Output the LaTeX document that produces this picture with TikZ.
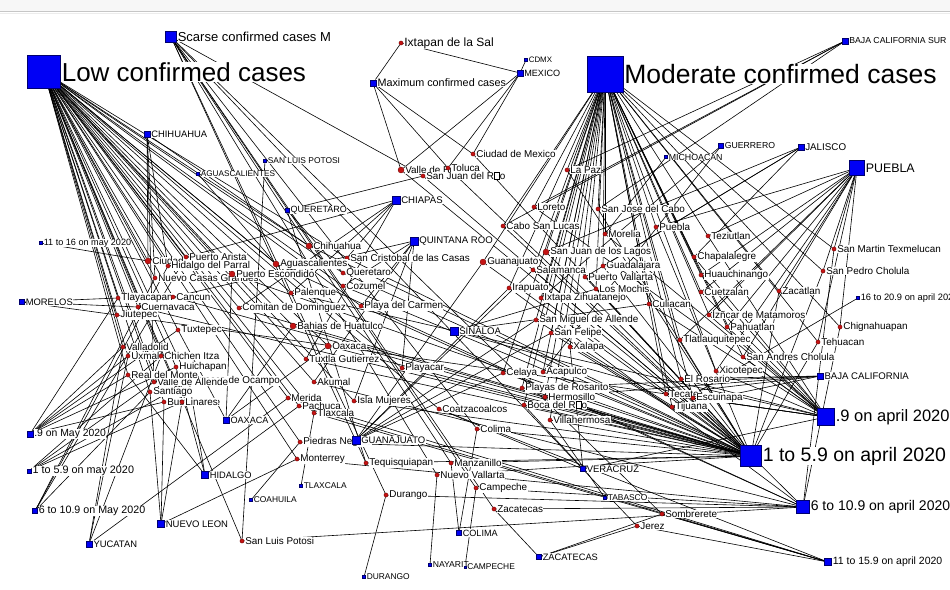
\documentclass[tikz,border=0pt]{standalone}
\usepackage{fontspec}
\setmainfont{Liberation Sans}
\definecolor{catblue}{RGB}{0,0,245}
\definecolor{catedge}{RGB}{0,0,110}
\definecolor{dotred}{RGB}{196,20,20}
\definecolor{dotedge}{RGB}{105,0,0}
\newcommand\lblsize[1]{\fontsize{#1}{#1}\selectfont}
% the box that stands in for a missing accented letter
\newcommand\mg{\kern0.4pt{\fboxsep0pt\fboxrule0.45pt\fbox{\rule{0pt}{0.7em}\hspace{0.42em}}}\kern0.4pt}
\pgfdeclarelayer{paper}\pgfdeclarelayer{links}\pgfsetlayers{paper,links,main}
\tikzset{
  edge/.style={draw=black, line width=0.6pt},
  city/.style={circle, fill=dotred, draw=dotedge, line width=0.3pt, inner sep=0pt, minimum size=#1},
  city/.default=4.2,
  cat/.style={rectangle, fill=catblue, draw=catedge, line width=0.4pt, inner sep=0pt, minimum size=#1},
  lbl/.style={fill=white, inner sep=0.3pt, text=black, font=\lblsize{9.9}},
}
% city: [dot size]{name}{x}{y}{text}
\newcommand\place[5][4.2]{\node[city=#1, label={[lbl]0:#5}] (#2) at (#3,#4) {};}
% category or state square: {name}{x}{y}{side}{font size}{text}
\newcommand\catnode[6]{\node[cat=#4, label={[lbl,font=\lblsize{#5}]0:#6}] (#1) at (#2,#3) {};}
\begin{document}
\begin{tikzpicture}[x=1pt, y=-1pt, label distance=0.6pt]
\clip (0,0) rectangle (950,589);
\begin{pgfonlayer}{paper}
  \fill[white] (0,0) rectangle (950,589);
  \fill[gray!6] (0,0) rectangle (950,11);
  \draw[gray!45, line width=1pt] (0,11.8) -- (950,11.8);
  \draw[gray!15, line width=1pt] (0,13) -- (950,13);
\end{pgfonlayer}

% ---------- places ----------
\node[city, label={[lbl,font=\lblsize{12}]0:Ixtapan de la Sal}] (ixt) at (401,43) {};
\place[6]{vbr}{401}{170}{Valle de Bravo}
\place{tol}{448}{168}{Toluca}
\place{sjr}{423}{176}{San Juan del R\mg o}
\place{cdm}{473}{154}{Ciudad de Mexico}
\place{lpz}{567}{170}{La Paz}
\place{lor}{534}{207}{Loreto}
\place{sjc}{598}{209}{San Jose del Cabo}
\place{csl}{503}{226}{Cabo San Lucas}
\place{pue}{656}{227}{Puebla}
\place{mor}{605}{234}{Morelia}
\place{tez}{708}{236}{Teziutlan}
\place[6]{sjl}{546}{252}{San Juan de los Lagos}
\place[6]{gto}{483}{262}{Guanajuato}
\place{gdl}{603}{266}{Guadalajara}
\place{sal}{533}{270}{Salamanca}
\place{pva}{585}{277}{Puerto Vallarta}
\place{lmo}{596}{289}{Los Mochis}
\place{ira}{509}{288}{Irapuato}
\place{ixz}{541}{298}{Ixtapa Zihuatanejo}
\place{sma}{536}{320}{San Miguel de Allende}
\place{sfe}{551}{333}{San Felipe}
\place{xal}{570}{347}{Xalapa}
\place{cul}{649}{304}{Culiacan}
\place{tla}{680}{340}{Tlatlauquitepec}
\place{cha}{694}{257}{Chapalalegre}
\place{hua}{701}{275}{Huauchinango}
\place{cue}{701}{292}{Cuetzalan}
\place{izu}{709}{315}{Izñcar de Matamoros}
\place{pah}{727}{327}{Pahuatlan}
\place{zcl}{779}{291}{Zacatlan}
\place{smt}{834}{249}{San Martin Texmelucan}
\place{spc}{823}{271}{San Pedro Cholula}
\place{chg}{840}{327}{Chignahuapan}
\place{teh}{818}{342}{Tehuacan}
\place{sac}{743}{357}{San Andres Cholula}
\place{xic}{716}{371}{Xicotepec}
\place{elr}{681}{379}{El Rosario}
\place{tec}{666}{394}{Tecate}
\place{esc}{693}{398}{Escuinapa}
\place{tij}{672}{407}{Tijuana}
\place{som}{662}{514}{Sombrerete}
\place{jer}{637}{526}{Jerez}
\place{zcs}{494}{509}{Zacatecas}
\place{cmp}{476}{488}{Campeche}
\place{nva}{437}{475}{Nuevo Vallarta}
\place{mzo}{451}{463}{Manzanillo}
\place{dur}{386}{495}{Durango}
\place{teq}{366}{463}{Tequisquiapan}
\place{mty}{297}{459}{Monterrey}
\place{pne}{300}{442}{Piedras Negras}
\place{slp}{242}{541}{San Luis Potosi}
\place{col}{477}{429}{Colima}
\place{coa}{439}{409}{Coatzacoalcos}
\place{isl}{354}{401}{Isla Mujeres}
\place{pac}{299}{406}{Pachuca}
\place{mer}{288}{398}{Merida}
\place{tlx}{314}{413}{Tlaxcala}
\place{aku}{314}{382}{Akumal}
\place{tux}{306}{359}{Tuxtla Gutierrez}
\place[6]{oax}{328}{346}{Oaxaca}
\place{pyc}{402}{368}{Playacar}
\place{cel}{503}{373}{Celaya}
\place{aca}{543}{372}{Acapulco}
\place{her}{545}{397}{Hermosillo}
\place{pro}{522}{388}{Playas de Rosarito}
\place{bdr}{524}{405}{Boca del R\mg o}
\place{vil}{550}{420}{Villahermosa}
\place[6]{bah}{293}{326}{Bahias de Huatulco}
\place{com}{239}{308}{Comitan de Dominguez}
\place{pal}{291}{293}{Palenque}
\place[6]{chi}{309}{246}{Chihuahua}
\place{scc}{347}{258}{San Cristobal de las Casas}
\place[6]{ags}{276}{264}{Aguascalientes}
\place{qro}{343}{273}{Queretaro}
\place{coz}{343}{286}{Cozumel}
\place{pdc}{361}{306}{Playa del Carmen}
\place[6]{cju}{148}{261}{Ciudad Juarez}
\place{par}{186}{257}{Puerto Arista}
\place{hdp}{168}{266}{Hidalgo del Parral}
\place{ncg}{155}{278}{Nuevo Casas Grandes}
\place[6]{pes}{232}{274}{Puerto Escondido}
\place{cva}{138}{307}{Cuernavaca}
\place{tly}{118}{298}{Tlayacapan}
\place{cun}{173}{297}{Cancun}
\place{jiu}{117}{315}{Jiutepec}
\place{txp}{178}{330}{Tuxtepec}
\place{vll}{123}{347}{Valladolid}
\place{hch}{176}{367}{Huichapan}
\place{uxm}{128}{356}{Uxmal}
\place{chz}{161}{356}{Chichen Itza}
\place{hoc}{189}{381}{Huasca de Ocampo}
\place{vda}{154}{382}{Valle de Allende}
\place{rdm}{128}{375}{Real del Monte}
\place{stg}{150}{392}{Santiago}
\place{bus}{164}{402}{Bustamante}
\place{lin}{182}{402}{Linares}

% ---------- case levels and dates ----------
\catnode{low}{44}{72}{33}{26}{Low confirmed cases}
\catnode{mod}{605}{74}{36}{26.5}{Moderate confirmed cases}
\catnode{sca}{171}{37}{11}{13}{Scarse confirmed cases M}
\catnode{max}{373}{83}{6.5}{10.8}{Maximum confirmed cases}
\catnode{a09}{826}{417}{17}{16.5}{.9 on april 2020}
\catnode{a1}{751}{456}{21}{19.5}{1 to 5.9 on april 2020}
\catnode{a6}{803}{507}{13}{14}{6 to 10.9 on april 2020}
\catnode{a11}{828}{562}{7}{10.5}{11 to 15.9 on april 2020}
\catnode{a16}{858}{298}{3}{9.3}{16 to 20.9 on april 2020}
\catnode{m09}{30}{434}{6}{10.4}{.9 on May 2020}
\catnode{m1}{29}{471}{4.5}{10.8}{1 to 5.9 on may 2020}
\catnode{m6}{35}{511}{5}{10.7}{6 to 10.9 on May 2020}
\catnode{m11}{41}{243}{3}{9.1}{11 to 16 on may 2020}

% ---------- states ----------
\catnode{CHIH}{147}{134}{6}{9.4}{CHIHUAHUA}
\catnode{SLP}{265}{161}{3}{8.4}{SAN LUIS POTOSI}
\catnode{AGS}{198}{174}{3}{8.2}{AGUASCALIENTES}
\catnode{QRO}{287}{210}{4.5}{9}{QUERETARO}
\catnode{CHIS}{396}{200}{8}{9.6}{CHIAPAS}
\catnode{QROO}{414}{241}{8}{9.6}{QUINTANA ROO}
\catnode{MEX}{520}{73}{6}{9.1}{MEXICO}
\catnode{CDMX}{526}{60}{3}{7.9}{CDMX}
\catnode{BCS}{845}{41}{6}{8.7}{BAJA CALIFORNIA SUR}
\catnode{GRO}{721}{146}{5}{8.7}{GUERRERO}
\catnode{MICH}{666}{157}{3}{8.8}{MICHOACAN}
\catnode{JAL}{801}{147}{6}{9.8}{JALISCO}
\catnode{PUE}{857}{168}{15}{12.4}{PUEBLA}
\catnode{MOR}{22}{302}{5}{9.4}{MORELOS}
\catnode{OAX}{226}{420}{6.5}{9.1}{OAXACA}
\catnode{HGO}{205}{475}{7}{9.3}{HIDALGO}
\catnode{NL}{161}{524}{7}{9.5}{NUEVO LEON}
\catnode{YUC}{89}{544}{6.5}{9.4}{YUCATAN}
\catnode{COAH}{251}{500}{3}{8.4}{COAHUILA}
\catnode{TLAX}{301}{486}{3}{8.4}{TLAXCALA}
\catnode{GTO}{356}{440}{8}{9.5}{GUANAJUATO}
\catnode{VER}{583}{469}{5}{9.5}{VERACRUZ}
\catnode{TAB}{605}{498}{3}{8.4}{TABASCO}
\catnode{COL}{459}{533}{5}{9.1}{COLIMA}
\catnode{ZAC}{539}{557}{5}{9.3}{ZACATECAS}
\catnode{NAY}{430}{565}{3}{8.6}{NAYARIT}
\catnode{CAM}{465}{567}{2}{8.4}{CAMPECHE}
\catnode{DGO}{364}{577}{3}{8.4}{DURANGO}
\catnode{SIN}{454}{331}{8}{9.6}{SINALOA}
\catnode{BC}{820}{376}{6.5}{9.6}{BAJA CALIFORNIA}

% ---------- ties ----------
\begin{pgfonlayer}{links}
  % place -> level of confirmed cases
  \foreach \c in {chi,cju,hdp,ncg,vda,tly,cva,jiu,vll,uxm,chz,mer,rdm,hoc,hch,pac,stg,bus,lin,mty,
                  scc,com,pal,tux,par,cun,coz,pdc,isl,aku,pyc,oax,pes,bah,txp,ags,slp,qro,tlx,pne,coa}
    \draw[edge] (\c) -- (low);
  \foreach \c in {lpz,lor,sjc,csl,pue,tez,cha,hua,cue,izu,pah,zcl,smt,spc,chg,teh,sac,xic,tla,gdl,pva,
                  sjl,gto,sal,ira,sma,sfe,cel,mor,aca,ixz,cul,lmo,esc,tij,tec,elr,pro,her,xal,bdr,vil}
    \draw[edge] (\c) -- (mod);
  \foreach \c in {dur,cmp,nva,col,mzo,zcs,jer,som,teq,sjr}
    \draw[edge] (\c) -- (sca);
  \foreach \c in {ixt,vbr,tol,cdm}
    \draw[edge] (\c) -- (max);
  % place -> state
  \foreach \c/\s in {chi/CHIH,cju/CHIH,hdp/CHIH,ncg/CHIH,vda/CHIH,slp/SLP,ags/AGS,
                     qro/QRO,sjr/QRO,teq/QRO,scc/CHIS,com/CHIS,pal/CHIS,tux/CHIS,par/CHIS,
                     cun/QROO,coz/QROO,pdc/QROO,isl/QROO,aku/QROO,pyc/QROO,
                     ixt/MEX,vbr/MEX,tol/MEX,cdm/MEX,CDMX/MEX,
                     lpz/BCS,lor/BCS,sjc/BCS,csl/BCS,aca/GRO,ixz/GRO,mor/MICH,
                     gdl/JAL,pva/JAL,sjl/JAL,cha/JAL,
                     pue/PUE,tez/PUE,hua/PUE,cue/PUE,izu/PUE,pah/PUE,zcl/PUE,smt/PUE,spc/PUE,
                     chg/PUE,teh/PUE,sac/PUE,xic/PUE,tla/PUE,
                     tly/MOR,cva/MOR,jiu/MOR,oax/OAX,pes/OAX,bah/OAX,txp/OAX,
                     gto/GTO,sal/GTO,ira/GTO,sma/GTO,sfe/GTO,cel/GTO,
                     pac/HGO,rdm/HGO,hoc/HGO,hch/HGO,pne/COAH,tlx/TLAX,
                     mty/NL,stg/NL,bus/NL,lin/NL,mer/YUC,vll/YUC,uxm/YUC,chz/YUC,
                     dur/DGO,nva/NAY,cmp/CAM,col/COL,mzo/COL,zcs/ZAC,som/ZAC,jer/ZAC,
                     vil/TAB,xal/VER,bdr/VER,coa/VER,cul/SIN,lmo/SIN,esc/SIN,
                     tij/BC,tec/BC,elr/BC,pro/BC,her/BC}
    \draw[edge] (\c) -- (\s);
  % place -> date range
  \foreach \c in {lor,tez,cha,hua,cue,izu,pah,sac,xic,elr,tec,esc,cul,mor,pal,jiu,VER}
    \draw[edge] (\c) -- (a09);
  \foreach \c in {chi,cva,scc,com,tux,cun,coz,isl,pyc,oax,pes,bah,qro,pne,lpz,sjc,csl,pue,zcl,spc,
                  teh,tla,gdl,pva,gto,sal,sma,sfe,cel,aca,ixz,lmo,pro,her,xal,bdr,vil,nva,col,mzo,
                  teq,sjr,cdm,vbr,tol}
    \draw[edge] (\c) -- (a1);
  \foreach \c in {pdc,aku,ags,slp,mty,smt,chg,sjl,ira,dur,cmp,zcs}
    \draw[edge] (\c) -- (a6);
  \foreach \c in {mer,pac,tlx,coa,jer,som}
    \draw[edge] (\c) -- (a11);
  \draw[edge] (tij) -- (a16);
  \foreach \c in {tly,vll,uxm,rdm,hch,bus,txp}
    \draw[edge] (\c) -- (m09);
  \foreach \c in {vda,chz,hoc,lin}
    \draw[edge] (\c) -- (m1);
  \foreach \c in {hdp,ncg,stg,par}
    \draw[edge] (\c) -- (m6);
  \draw[edge] (cju) -- (m11);
\end{pgfonlayer}
\end{tikzpicture}
\end{document}
